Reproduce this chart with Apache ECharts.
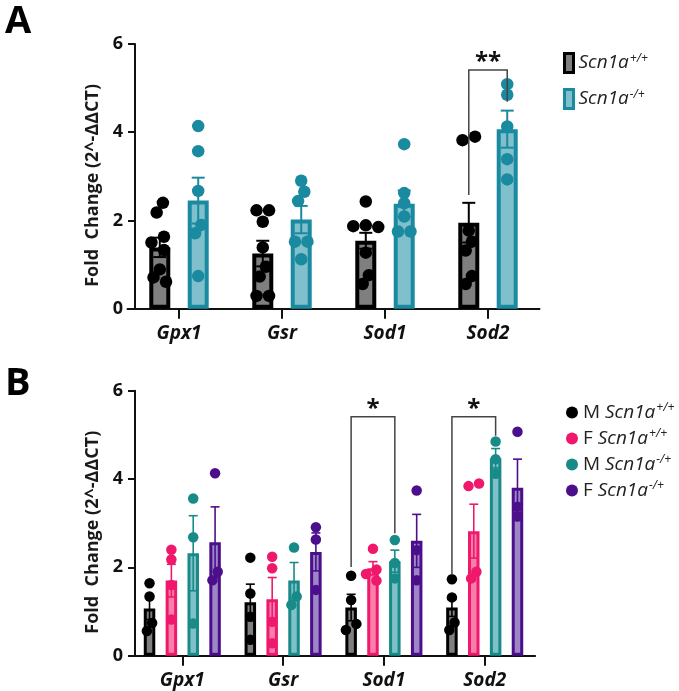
<!DOCTYPE html>
<html><head><meta charset="utf-8">
<script src="https://cdn.jsdelivr.net/npm/echarts@6/dist/echarts.min.js"></script>
<style>html,body{margin:0;padding:0;background:#fff}#c{width:679px;height:691px}</style>
</head><body><div id="c"></div>
<script>
// ---------------- DATA ----------------
const categories = ['Gpx1', 'Gsr', 'Sod1', 'Sod2'];
const yTicks = [0, 2, 4, 6];
const yAxisTitle = 'Fold  Change (2^-\u0394\u0394CT)';

// Panel A: Scn1a+/+ (wt) and Scn1a-/+ (het)
const aWtMean = [1.39, 1.25, 1.54, 1.95];
const aWtSem  = [0.22, 0.29, 0.18, 0.45];
const aHetMean = [2.45, 2.02, 2.38, 4.07];
const aHetSem  = [0.52, 0.31, 0.30, 0.42];
const aWtDots = [
  [2.40, 2.18, 1.63, 1.50, 1.33, 0.89, 0.71, 0.61],
  [2.23, 2.23, 1.97, 1.39, 0.95, 0.73, 0.29, 0.29],
  [2.43, 1.89, 1.87, 1.85, 1.27, 0.76, 0.56],
  [3.90, 3.82, 1.77, 1.52, 1.32, 0.74, 0.56]
];
const aHetDots = [
  [4.14, 3.57, 2.67, 1.90, 1.71, 0.74],
  [2.90, 2.65, 2.44, 1.52, 1.52, 1.12],
  [3.73, 2.62, 2.39, 2.09, 1.75, 1.75],
  [5.09, 4.85, 4.13, 3.39, 2.93]
];
// bracket: [category, fromBar, toBar, topValue, leftLegEnd, rightLegEnd, mark]
const aBrackets = [[3, 0, 1, 5.41, 2.58, 4.69, '**']];

// Panel B: M/F x Scn1a+/+ / Scn1a-/+
const bGroupNames = ['M Scn1a+/+', 'F Scn1a+/+', 'M Scn1a-/+', 'F Scn1a-/+'];
const bMean = [
  [1.07, 1.21, 1.09, 1.09],
  [1.70, 1.28, 1.98, 2.82],
  [2.32, 1.70, 2.14, 4.47],
  [2.57, 2.35, 2.60, 3.80]
];
const bSem = [
  [0.25, 0.41, 0.30, 0.20],
  [0.37, 0.49, 0.15, 0.61],
  [0.85, 0.41, 0.25, 0.22],
  [0.80, 0.43, 0.60, 0.65]
];
const bDotsMWt = [[1.64, 1.34, 0.74, 0.56], [2.22, 1.41, 0.88, 0.36], [1.81, 1.26, 0.72, 0.58], [1.73, 1.32, 0.75, 0.58]];
const bDotsFWt = [[2.40, 2.18, 1.60, 0.82], [2.24, 1.98, 0.77, 0.28], [2.42, 1.95, 1.85, 1.70], [3.90, 3.84, 1.90, 1.75]];
const bDotsMHet = [[3.56, 2.68, 0.73], [2.45, 1.34, 1.15], [2.62, 2.10, 1.75], [4.85, 4.45, 4.12]];
const bDotsFHet = [[4.13, 1.90, 1.71], [2.91, 2.63, 1.49], [3.74, 2.39, 1.71], [5.07, 3.37, 3.15]];
const bBrackets = [[2, 0, 2, 5.41, 2.01, 2.77, '*'], [3, 0, 2, 5.41, 1.83, 4.98, '*']];

// ---------------- STYLE / LAYOUT ----------------
const FONT = 'Open Sans';
const gridA = {left: 127.5, top: 44, width: 412, height: 264.7};
const gridB = {left: 131.9, top: 390.7, width: 403.2, height: 265};
const styleA = {
  bw: 21, gap: 0.83, border: 4, dot: 12.5, lw: 2, cap: 6.5,
  fill: ['#7f7f7f', '#80bfcc'], edge: ['#000000', '#1a8aa0'], dotc: ['#000000', '#1a8aa0']
};
const styleB = {
  bw: 11.5, gap: 0.9, border: 3, dot: 10.5, lw: 1.6, cap: 4.5,
  fill: ['#7f7f7f', '#f77fa9', '#80c0c8', '#9c86c6'],
  edge: ['#000000', '#f0186c', '#188a88', '#4c0f8c'],
  dotc: ['#000000', '#f0186c', '#188a88', '#4c0f8c']
};

function barOffsets(n, st) {
  const sp = st.bw * (1 + st.gap);
  const out = [];
  for (let i = 0; i < n; i++) out.push((i - (n - 1) / 2) * sp);
  return out;
}

// simple beeswarm (pixel units) so dots don't overlap
function swarm(vals, pxPerUnit, diam) {
  const order = vals.map((v, i) => i).sort((a, b) => vals[b] - vals[a]);
  const pts = vals.map(v => ({x: 0, y: v * pxPerUnit}));
  const placed = [];
  for (const i of order) {
    const y = pts[i].y;
    for (let k = 0; k < 30; k++) {
      const cand = k === 0 ? 0 : (k % 2 ? -1 : 1) * Math.ceil(k / 2) * diam * 0.5;
      if (placed.every(j => Math.hypot(pts[j].x - cand, pts[j].y - y) >= diam * 0.8)) {
        pts[i].x = cand; break;
      }
    }
    placed.push(i);
  }
  const comp = vals.map(() => -1); let c = 0;
  for (let i = 0; i < vals.length; i++) {
    if (comp[i] >= 0) continue;
    const stack = [i]; comp[i] = c;
    while (stack.length) {
      const a = stack.pop();
      for (let b = 0; b < vals.length; b++) {
        if (comp[b] < 0 && Math.abs(pts[a].y - pts[b].y) < diam * 0.8) { comp[b] = c; stack.push(b); }
      }
    }
    c++;
  }
  for (let k = 0; k < c; k++) {
    const mem = pts.filter((p, i) => comp[i] === k);
    const mx = mem.reduce((s, p) => s + p.x, 0) / mem.length;
    mem.forEach(p => p.x -= mx);
  }
  return pts.map(p => p.x);
}

const series = [];

function addPanel(gi, grid, st, names, means, sems, dots, brackets, dotNames) {
  const n = means.length;
  const offs = barOffsets(n, st);
  const ppu = grid.height / 6;
  for (let g = 0; g < n; g++) {
    series.push({
      type: 'bar', name: names[g], xAxisIndex: gi, yAxisIndex: gi,
      data: means[g], barWidth: st.bw, barGap: (st.gap * 100) + '%', z: 2,
      itemStyle: {color: st.fill[g], borderColor: st.edge[g], borderWidth: st.border}
    });
    series.push({
      type: 'custom', xAxisIndex: gi, yAxisIndex: gi, z: 3, silent: true,
      data: means[g].map((m, i) => [i, m, sems[g][i]]),
      renderItem: (params, api) => {
        const ci = api.value(0), m = api.value(1), s = api.value(2);
        const t = api.coord([ci, m + s]), b = api.coord([ci, m - s]);
        const x = t[0] + offs[g];
        const ls = {stroke: st.edge[g], lineWidth: st.lw};
        return {type: 'group', children: [
          {type: 'line', shape: {x1: x, y1: t[1], x2: x, y2: b[1]}, style: ls},
          {type: 'line', shape: {x1: x - st.cap, y1: t[1], x2: x + st.cap, y2: t[1]}, style: ls},
          {type: 'line', shape: {x1: x - st.cap, y1: b[1], x2: x + st.cap, y2: b[1]}, style: ls}
        ]};
      }
    });
    const pts = [];
    dots[g].forEach((vals, ci) => {
      const sw = swarm(vals, ppu, st.dot);
      vals.forEach((v, k) => pts.push({value: [ci, v], symbolOffset: [offs[g] + sw[k], 0]}));
    });
    series.push({
      type: 'scatter', name: dotNames[g], xAxisIndex: gi, yAxisIndex: gi, z: 4,
      symbol: 'circle', symbolSize: st.dot, data: pts,
      itemStyle: {color: st.dotc[g], opacity: 1}
    });
  }
  series.push({
    type: 'custom', xAxisIndex: gi, yAxisIndex: gi, z: 5, silent: true,
    data: brackets.map(b => [b[0], b[3], b[4], b[5], b[1], b[2]]),
    renderItem: (params, api) => {
      const br = brackets[params.dataIndex];
      const ci = api.value(0);
      const top = api.coord([ci, api.value(1)]);
      const yl = api.coord([ci, api.value(2)])[1];
      const yr = api.coord([ci, api.value(3)])[1];
      const x1 = top[0] + offs[br[1]], x2 = top[0] + offs[br[2]];
      return {type: 'group', children: [
        {type: 'polyline', shape: {points: [[x1, yl], [x1, top[1]], [x2, top[1]], [x2, yr]]},
         style: {stroke: '#444', lineWidth: 1.5, fill: null}},
        {type: 'text', x: (x1 + x2) / 2, y: top[1] + 4,
         style: {text: br[6], fontSize: 24, fontWeight: 'bold', fontFamily: FONT, fill: '#111',
                 align: 'center', verticalAlign: 'bottom'}}
      ]};
    }
  });
}

addPanel(0, gridA, styleA, ['A Scn1a+/+', 'A Scn1a-/+'], [aWtMean, aHetMean], [aWtSem, aHetSem],
  [aWtDots, aHetDots], aBrackets, ['A dots wt', 'A dots het']);
addPanel(1, gridB, styleB, bGroupNames.map(s => 'bar ' + s), bMean, bSem,
  [bDotsMWt, bDotsFWt, bDotsMHet, bDotsFHet], bBrackets, bGroupNames);

function yAx(gi, off) {
  return {
    gridIndex: gi, type: 'value', min: yTicks[0], max: yTicks[yTicks.length - 1], interval: 2, offset: off,
    name: yAxisTitle, nameLocation: 'middle', nameGap: 24,
    nameTextStyle: {fontFamily: FONT, fontWeight: 'bold', fontSize: 18, color: '#1a1a1a', padding: [0, 18, 0, 0]},
    axisLine: {show: true, lineStyle: {color: '#111', width: 2}},
    axisTick: {show: true, length: 7, lineStyle: {color: '#111', width: 2}},
    axisLabel: {fontFamily: FONT, fontWeight: 'bold', fontSize: 18, color: '#111', margin: 12},
    splitLine: {show: false}
  };
}
function xAx(gi) {
  return {
    gridIndex: gi, type: 'category', data: categories,
    axisLine: {show: true, lineStyle: {color: '#111', width: 2}},
    axisTick: {show: true, alignWithLabel: true, length: 10, lineStyle: {color: '#111', width: 2}},
    axisLabel: {fontFamily: FONT, fontWeight: 'bold', fontStyle: 'italic', fontSize: 19, color: '#111', margin: 15}
  };
}

const rich = {
  t: {fontFamily: FONT, fontStyle: 'italic', fontSize: 19, color: '#222'},
  m: {fontFamily: FONT, fontSize: 19, color: '#222'},
  s: {fontFamily: FONT, fontStyle: 'italic', fontSize: 12, color: '#222', verticalAlign: 'top', padding: [0, 0, 9, 1]}
};
function legFmt(name) {
  const sup = name.indexOf('+/+') >= 0 ? '+/+' : '-/+';
  const sex = name.startsWith('M ') ? '{m|M }' : name.startsWith('F ') ? '{m|F }' : '';
  return sex + '{t|Scn1a}{s|' + sup + '}';
}

const option = {
  animation: false,
  backgroundColor: '#fff',
  title: [
    {text: 'A', left: 0, top: -2, textStyle: {fontFamily: FONT, fontWeight: 'bold', fontSize: 38, color: '#000'}},
    {text: 'B', left: 0, top: 360, textStyle: {fontFamily: FONT, fontWeight: 'bold', fontSize: 38, color: '#000'}}
  ],
  grid: [
    {left: gridA.left, top: gridA.top, width: gridA.width, height: gridA.height},
    {left: gridB.left, top: gridB.top, width: gridB.width, height: gridB.height}
  ],
  xAxis: [xAx(0), xAx(1)],
  yAxis: [yAx(0, -7.5), yAx(1, -3.1)],
  legend: [
    {orient: 'vertical', left: 558, top: 47, itemWidth: 9, itemHeight: 19, itemGap: 14, icon: 'rect',
     selectedMode: false, formatter: legFmt, textStyle: {rich: rich},
     data: [
       {name: 'A Scn1a+/+', itemStyle: {color: styleA.fill[0], borderColor: styleA.edge[0], borderWidth: 3}},
       {name: 'A Scn1a-/+', itemStyle: {color: styleA.fill[1], borderColor: styleA.edge[1], borderWidth: 3}}
     ]},
    {orient: 'vertical', left: 561, top: 397, itemWidth: 12, itemHeight: 12, itemGap: 6, icon: 'circle',
     selectedMode: false, formatter: legFmt, textStyle: {rich: rich},
     data: bGroupNames}
  ],
  series: series
};
const chart = echarts.init(document.getElementById('c'), null, {renderer: 'canvas'});
chart.setOption(option);
</script>
</body></html>
